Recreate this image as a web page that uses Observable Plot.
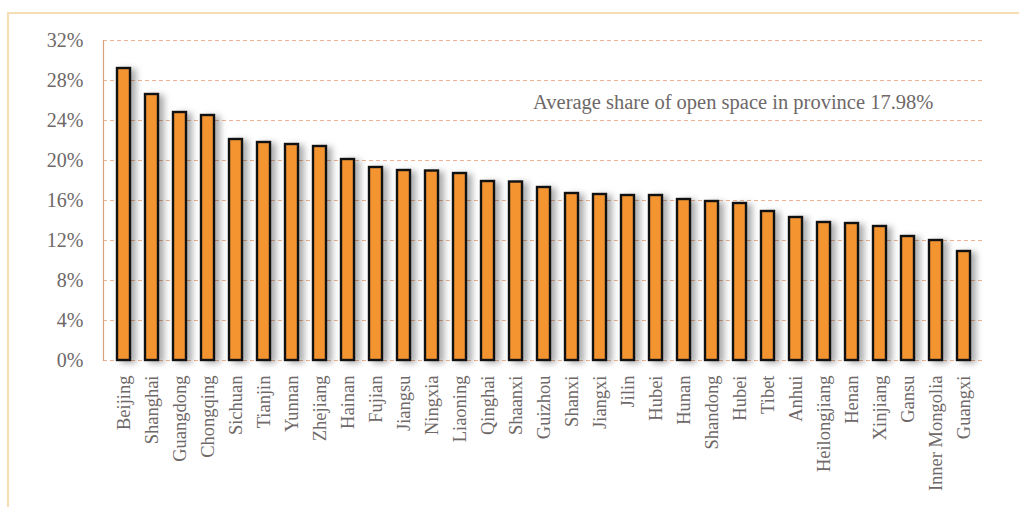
<!DOCTYPE html>
<html>
<head>
<meta charset="utf-8">
<script src="https://cdn.jsdelivr.net/npm/d3@7"></script>
<script src="https://cdn.jsdelivr.net/npm/@observablehq/plot@0.6"></script>
<style>
  html, body { margin: 0; padding: 0; background: #fff; }
  #wrap { position: relative; width: 1019px; height: 507px; overflow: hidden; }
  #panel {
    position: absolute; left: 7px; top: 12px; right: -4px; bottom: -4px;
    border-top: 2px solid #f5dfb2; border-left: 2px solid #f5dfb2;
  }
  #chart { position: absolute; left: 0; top: 0; }
  #chart .bars { filter: drop-shadow(5px 2px 3px rgba(0,0,0,0.32)); }
</style>
</head>
<body>
<div id="wrap"><div id="panel"></div><div id="chart"></div></div>
<script>
// Share of open space by province (%), sorted high to low
const provinces = ["Beijing","Shanghai","Guangdong","Chongqing","Sichuan","Tianjin","Yunnan","Zhejiang",
  "Hainan","Fujian","Jiangsu","Ningxia","Liaoning","Qinghai","Shaanxi","Guizhou","Shanxi","Jiangxi",
  "Jilin","Hubei ","Hunan","Shandong","Hubei","Tibet","Anhui","Heilongjiang","Henan","Xinjiang",
  "Gansu","Inner Mongolia","Guangxi"];
const shares = [29.2,26.6,24.8,24.5,22.1,21.8,21.6,21.4,
  20.1,19.3,19.0,18.95,18.7,17.9,17.85,17.3,16.7,16.6,
  16.5,16.5,16.1,15.9,15.7,14.9,14.3,13.8,13.7,13.4,
  12.4,12.0,10.9];
const yTicks = [0,4,8,12,16,20,24,28,32];
const averageShare = 17.98;
const noteText = `Average share of open space in province ${averageShare}%`;

const data = provinces.map((p, i) => ({province: p, share: shares[i]}));

const font = "'Liberation Serif', 'Times New Roman', serif";
const textColor = "#6e6868";

const chart = Plot.plot({
  width: 1019,
  height: 507,
  marginLeft: 103,
  marginRight: 36,
  marginTop: 40,
  marginBottom: 147,
  style: {fontFamily: font, fontSize: "18px", color: textColor, background: "transparent", overflow: "visible"},
  x: {domain: provinces, paddingInner: 0.54, paddingOuter: 0.3, label: null},
  y: {domain: [0, 32], label: null},
  marks: [
    Plot.ruleY(yTicks, {stroke: "#efb391", strokeWidth: 1.2, strokeDasharray: "4,3"}),
    Plot.frame({anchor: "left", stroke: "#d8a07c", strokeWidth: 1.2}),
    Plot.barY(data, {x: "province", y: "share", fill: "#f39431", stroke: "#111", strokeWidth: 2.4, className: "bars"}),
    Plot.axisY({ticks: yTicks, tickSize: 0, tickPadding: 20, tickFormat: d => d + "%", fontSize: 20, fill: textColor}),
    Plot.axisX({tickSize: 0, tickPadding: 15, tickRotate: -90, fontSize: 18.5, fill: textColor, tickFormat: d => d.trim()}),
    Plot.text([noteText], {x: () => "Shaanxi", y: () => 25.2, dx: 17, text: d => d, textAnchor: "start",
      lineAnchor: "bottom", fontSize: 20.5, fill: textColor})
  ]
});

document.getElementById("chart").appendChild(chart);
</script>
</body>
</html>
